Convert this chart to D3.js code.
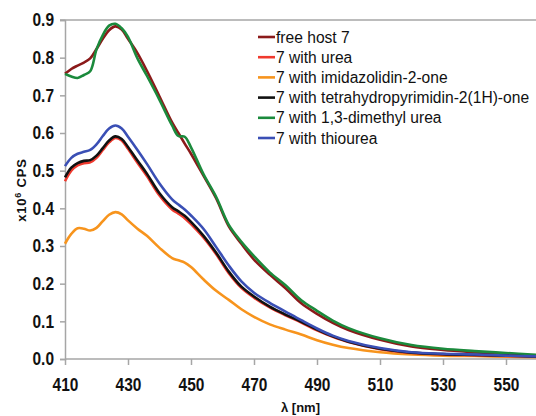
<!DOCTYPE html>
<html><head><meta charset="utf-8">
<script src="https://cdn.jsdelivr.net/npm/d3@7"></script>
<style>body{margin:0;background:#fff}svg{display:block}</style>
</head><body>
<script>
const wavelengths = [410,412,414,416,418,420,422,424,426,428,430,433,436,440,444,446,448,450,454,458,462,466,470,475,480,485,490,495,500,510,520,530,540,550,560];
const freeHost = [0.757,0.770,0.779,0.787,0.798,0.823,0.850,0.873,0.883,0.875,0.850,0.812,0.765,0.697,0.628,0.600,0.572,0.545,0.486,0.426,0.352,0.306,0.264,0.224,0.188,0.148,0.120,0.096,0.077,0.051,0.033,0.024,0.018,0.013,0.009];
const withUrea = [0.472,0.500,0.514,0.520,0.522,0.534,0.555,0.575,0.587,0.580,0.558,0.521,0.486,0.434,0.397,0.386,0.374,0.358,0.322,0.278,0.228,0.189,0.163,0.137,0.116,0.097,0.076,0.059,0.045,0.026,0.016,0.012,0.010,0.008,0.006];
const withImidazolidinone = [0.306,0.332,0.347,0.346,0.341,0.348,0.366,0.383,0.390,0.384,0.368,0.346,0.327,0.295,0.268,0.262,0.256,0.244,0.211,0.181,0.157,0.132,0.112,0.092,0.078,0.065,0.050,0.038,0.029,0.018,0.012,0.009,0.008,0.006,0.005];
const withTetrahydropyrimidinone = [0.482,0.508,0.520,0.526,0.528,0.540,0.560,0.580,0.591,0.584,0.563,0.527,0.492,0.440,0.403,0.392,0.380,0.364,0.327,0.282,0.232,0.192,0.166,0.139,0.118,0.099,0.078,0.060,0.046,0.027,0.017,0.013,0.011,0.009,0.006];
const withDimethylUrea = [0.757,0.750,0.746,0.754,0.764,0.822,0.860,0.885,0.890,0.878,0.855,0.798,0.752,0.688,0.620,0.592,0.590,0.562,0.490,0.430,0.356,0.311,0.273,0.230,0.196,0.156,0.128,0.102,0.082,0.055,0.037,0.027,0.021,0.016,0.011];
const withThiourea = [0.512,0.534,0.545,0.550,0.555,0.570,0.592,0.612,0.620,0.612,0.590,0.555,0.518,0.466,0.424,0.410,0.397,0.381,0.345,0.297,0.248,0.206,0.176,0.149,0.126,0.103,0.081,0.062,0.048,0.029,0.018,0.014,0.012,0.009,0.007];
const seriesNames = ["free host 7","7 with urea","7 with imidazolidin-2-one","7 with tetrahydropyrimidin-2(1H)-one","7 with 1,3-dimethyl urea","7 with thiourea"];
const seriesColors = ["#8b1a1a","#f03a2e","#f7941d","#111111","#1b8a3c","#3a4fb5"];
const xTicks = [410,430,450,470,490,510,530,550];
const yTicks = [0.0,0.1,0.2,0.3,0.4,0.5,0.6,0.7,0.8,0.9];

const seriesValues = [freeHost, withUrea, withImidazolidinone, withTetrahydropyrimidinone, withDimethylUrea, withThiourea];
const drawOrder = [2,0,4,1,3,5];

const W = 536, H = 416;
const margin = {left:65, right:0, top:20, bottom:57};
const svg = d3.select("body").append("svg").attr("width",W).attr("height",H);

const x = d3.scaleLinear().domain([410,560]).range([margin.left, margin.left + 150*3.15]);
const y = d3.scaleLinear().domain([0,0.9]).range([H - margin.bottom, margin.top]);

const axisColor = "#a6a6a6";
const font = "'Liberation Sans', Arial, sans-serif";

svg.append("line").attr("x1", margin.left - 5).attr("x2", W).attr("y1", y(0.9)).attr("y2", y(0.9))
  .attr("stroke", axisColor).attr("stroke-width", 1.5);

const yAxis = svg.append("g").attr("transform", `translate(${margin.left},0)`)
  .call(d3.axisLeft(y).tickValues(yTicks).tickFormat(d3.format(".1f")).tickSize(5).tickPadding(6));
const xAxis = svg.append("g").attr("transform", `translate(0,${y(0)})`)
  .call(d3.axisBottom(x).tickValues(xTicks).tickFormat(d3.format("d")).tickSize(6).tickPadding(13));

[yAxis, xAxis].forEach(g => {
  g.select(".domain").attr("stroke", axisColor).attr("stroke-width", 1.5);
  g.selectAll(".tick line").attr("stroke", axisColor).attr("stroke-width", 1.5);
  g.selectAll(".tick text").attr("fill", "#111").style("font-family", font)
    .style("font-weight", "bold").style("font-size", "18px")
    .each(function(){
      const w = this.getComputedTextLength();
      d3.select(this).attr("textLength", w*0.86).attr("lengthAdjust","spacingAndGlyphs");
    });
});
xAxis.select(".domain").attr("d", `M${margin.left},0H${W}`);

const line = d3.line().x((d,i) => x(wavelengths[i])).y(d => y(d)).curve(d3.curveCatmullRom.alpha(0.5));

const plot = svg.append("g");
drawOrder.forEach(k => {
  plot.append("path").datum(seriesValues[k]).attr("d", line)
    .attr("fill","none").attr("stroke", seriesColors[k]).attr("stroke-width", 2.6)
    .attr("stroke-linejoin","round");
});

const legend = svg.append("g");
seriesNames.forEach((name, i) => {
  const ly = 37 + i*20.2;
  legend.append("line").attr("x1", 258).attr("x2", 275).attr("y1", ly).attr("y2", ly)
    .attr("stroke", seriesColors[i]).attr("stroke-width", 2.6);
  legend.append("text").attr("x", 276).attr("y", ly).attr("dy", "0.36em")
    .style("font-family", font).style("font-size", "15.6px").attr("fill", "#111")
    .text(name);
});

svg.append("text").attr("x", (margin.left + W)/2).attr("y", 412).attr("text-anchor","middle")
  .style("font-family", font).style("font-weight","bold").style("font-size","13px").attr("fill","#111")
  .text("λ [nm]");

const yt = svg.append("text").attr("transform", "translate(26,190) rotate(-90)").attr("text-anchor","middle")
  .style("font-family", font).style("font-weight","bold").style("font-size","13px").attr("fill","#111")
  .style("letter-spacing","0.8px");
yt.append("tspan").text("x10");
yt.append("tspan").attr("dy", -5).style("font-size","9px").text("6");
yt.append("tspan").attr("dy", 5).text(" CPS");
</script>
</body></html>
